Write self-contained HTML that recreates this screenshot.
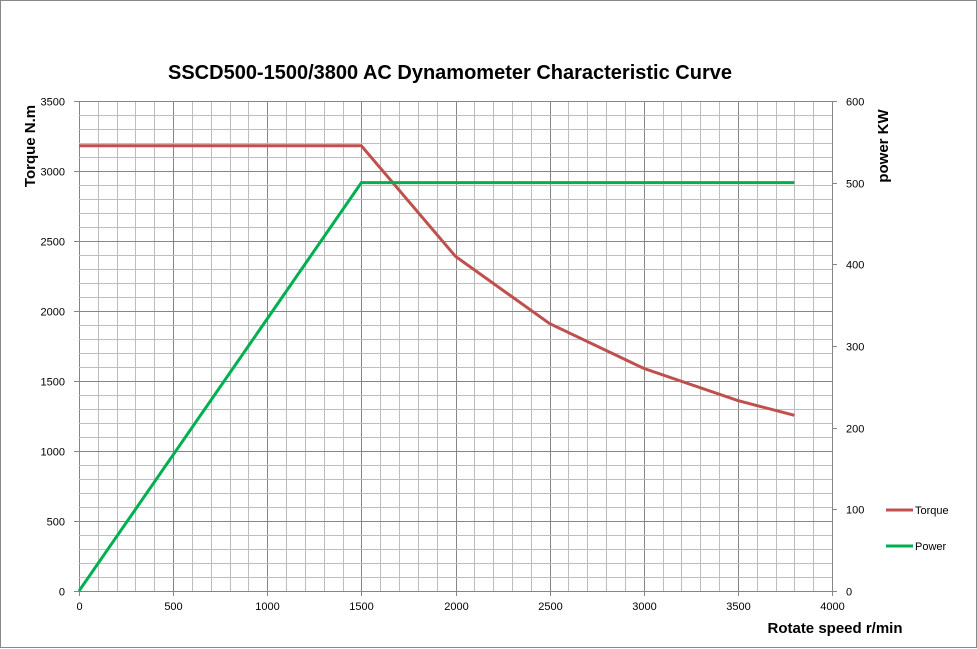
<!DOCTYPE html>
<html><head><meta charset="utf-8"><style>
html,body{margin:0;padding:0;background:#fff;}
svg{display:block;font-family:"Liberation Sans",sans-serif;}
</style></head><body>
<svg id="c" width="977" height="649" xmlns="http://www.w3.org/2000/svg">
<rect x="0.5" y="0.5" width="976" height="647" fill="#fff" stroke="#888"/>
<text x="450" y="79" text-anchor="middle" font-size="20" font-weight="bold">SSCD500-1500/3800  AC Dynamometer Characteristic Curve</text>
<g id="grid"></g>
<text transform="translate(35,146) rotate(-90)" text-anchor="middle" font-size="15" font-weight="bold">Torque N.m</text>
<text transform="translate(888,146) rotate(-90)" text-anchor="middle" font-size="15" font-weight="bold">power KW</text>
<text x="835" y="633" text-anchor="middle" font-size="15" font-weight="bold">Rotate speed r/min</text>
<line x1="886" y1="510" x2="913" y2="510" stroke="#C0504D" stroke-width="3"/>
<text x="915" y="514" font-size="11">Torque</text>
<line x1="886" y1="546" x2="913" y2="546" stroke="#00B050" stroke-width="3"/>
<text x="915" y="550" font-size="11">Power</text>
</svg>
<script>
var ns="http://www.w3.org/2000/svg",g=document.getElementById('grid');
function el(t,a,txt){var e=document.createElementNS(ns,t);for(var k in a)e.setAttribute(k,a[k]);if(txt!==undefined)e.textContent=txt;g.appendChild(e);return e;}
var X0=79,X1=832,Y0=591,Y1=101;
function sx(v){return X0+(X1-X0)*v/4000;}
function sy(v){return Y0-(Y0-Y1)*v/3500;}
function sp(v){return Y0-(Y0-Y1)*v/600;}
for(var v=0;v<=4000;v+=100){var x=Math.round(sx(v))+0.5;var maj=v%500==0;
 el('line',{x1:x,y1:Y1,x2:x,y2:Y0+(maj?5:0),stroke:maj?'#868686':'#bdbdbd','stroke-width':1});
 if(maj)el('text',{x:x,y:610,'text-anchor':'middle','font-size':11},v);}
for(var v=0;v<=3500;v+=100){var y=Math.round(sy(v))+0.5;var maj=v%500==0;
 el('line',{x1:X0-(maj?5:0),y1:y,x2:X1,y2:y,stroke:maj?'#868686':'#bdbdbd','stroke-width':1});
 if(maj)el('text',{x:65,y:y+4,'text-anchor':'end','font-size':11},v);}
for(var v=0;v<=600;v+=100){var y=Math.round(sp(v))+0.5;
 el('line',{x1:X1,y1:y,x2:X1+5,y2:y,stroke:'#868686'});
 el('text',{x:846,y:y+4,'font-size':11},v);}
el('line',{x1:X1+0.5,y1:Y1,x2:X1+0.5,y2:Y0,stroke:'#868686'});
var T=[[0,3180],[1500,3180],[2000,2390],[2500,1910],[3000,1590],[3500,1360],[3800,1255]];
el('polyline',{points:T.map(function(p){return sx(p[0])+','+sy(p[1])}).join(' '),fill:'none',stroke:'#C0504D','stroke-width':3});
var P=[[0,0],[1500,500],[3800,500]];
el('polyline',{points:P.map(function(p){return sx(p[0])+','+sp(p[1])}).join(' '),fill:'none',stroke:'#00B050','stroke-width':3});
</script>
</body></html>
